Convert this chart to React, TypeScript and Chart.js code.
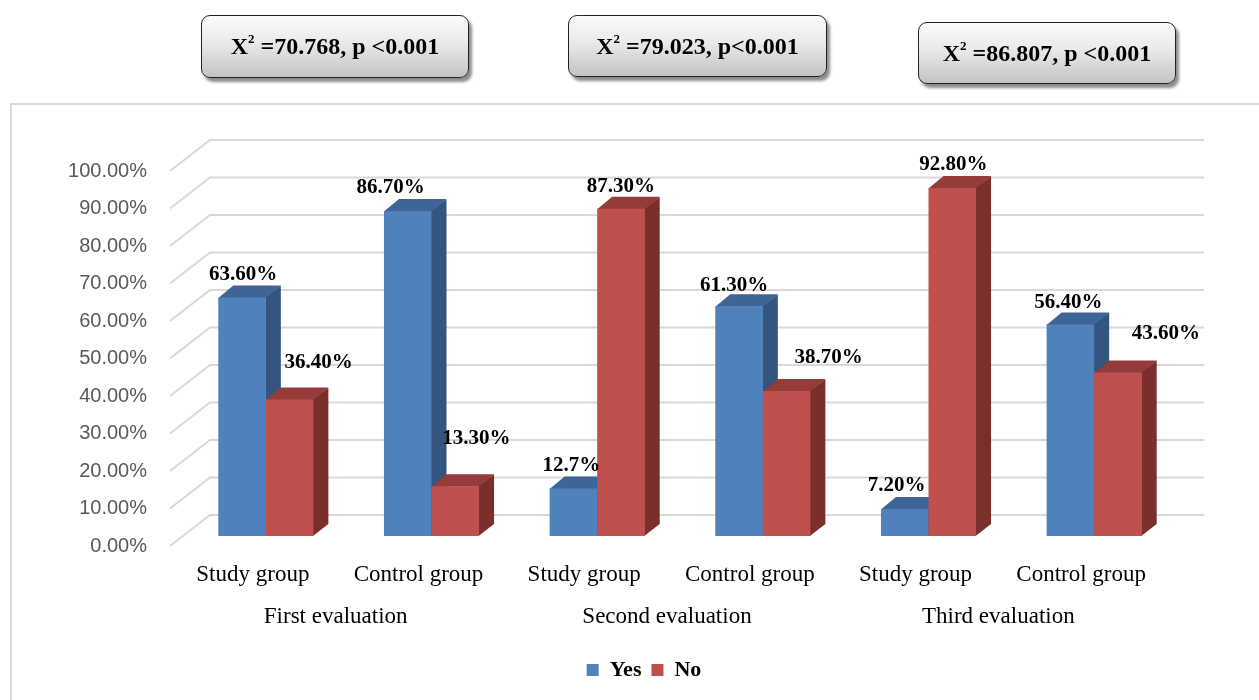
import React, { useEffect, useRef } from 'react';
import { Chart, registerables } from 'chart.js';

Chart.register(...registerables);

// ---------- data ----------
const categories = ['Study group', 'Control group', 'Study group', 'Control group', 'Study group', 'Control group'];
const groups = ['First evaluation', 'Second evaluation', 'Third evaluation'];
const yesValues = [63.6, 86.7, 12.7, 61.3, 7.2, 56.4];
const noValues = [36.4, 13.3, 87.3, 38.7, 92.8, 43.6];
const yesLabels = ['63.60%', '86.70%', '12.7%', '61.30%', '7.20%', '56.40%'];
const noLabels = ['36.40%', '13.30%', '87.30%', '38.70%', '92.80%', '43.60%'];
const seriesNames = ['Yes', 'No'];
const chiSquare = ['70.768', '79.023', '86.807'];
const pTexts = ['p <0.001', 'p<0.001', 'p <0.001'];
const yMin = 0;
const yMax = 100;
const yStep = 10;

// ---------- styling / layout ----------
const FRONT = ['#4f81bd', '#c0504d'];
const TOP = ['#3e6595', '#953b39'];
const SIDE = ['#33557f', '#7a2f2d'];
const WALL_DX = 40;
const WALL_DY = -31;
const BAR_DX = 13;
const BAR_DY = -10;
const DEPTH_DX = 15;
const DEPTH_DY = -12;
const LEGEND_SHIFT = 57;
// label nudges relative to bar's front-top centre (dx, dy)
const yesNudge = [[1, -23], [-17, -23], [-2, -23], [-5, -21], [-8, -23], [-2, -22]];
const noNudge = [[29, -37], [21, -48], [0, -22], [42, -33], [1, -23], [48, -39]];
const BOXES = [
  { left: 201, top: 15, width: 268, height: 63 },
  { left: 568, top: 15, width: 259, height: 62 },
  { left: 918, top: 22, width: 258, height: 62 },
];

const threeD = {
  id: 'threeD',
  afterLayout(chart: any) {
    if (chart.legend) {
      chart.legend.left += LEGEND_SHIFT;
      chart.legend.right += LEGEND_SHIFT;
    }
  },
  beforeDatasetsDraw(chart: any) {
    const ctx = chart.ctx;
    const ys = chart.scales.y;
    const area = chart.chartArea;
    ctx.save();
    ctx.strokeStyle = '#d9d9d9';
    ctx.lineWidth = 2;
    ys.ticks.forEach((t: any) => {
      const py = ys.getPixelForValue(t.value);
      ctx.beginPath();
      ctx.moveTo(area.left, py);
      ctx.lineTo(area.left + WALL_DX, py + WALL_DY);
      ctx.lineTo(area.right + WALL_DX, py + WALL_DY);
      ctx.stroke();
    });
    ctx.restore();

    ctx.save();
    ctx.translate(BAR_DX, BAR_DY);
    const metas = chart.data.datasets.map((_: any, i: number) => chart.getDatasetMeta(i));
    const n = chart.data.labels.length;
    for (let j = 0; j < n; j++) {
      metas.forEach((meta: any, di: number) => {
        const el = meta.data[j];
        if (!el) return;
        const x = el.x, top = el.y, base = el.base, w = el.width;
        const l = x - w / 2, r = x + w / 2;
        ctx.fillStyle = TOP[di];
        ctx.beginPath();
        ctx.moveTo(l, top + 0.5);
        ctx.lineTo(l + DEPTH_DX, top + DEPTH_DY);
        ctx.lineTo(r + DEPTH_DX, top + DEPTH_DY);
        ctx.lineTo(r - 0.5, top + 0.5);
        ctx.closePath();
        ctx.fill();
        ctx.fillStyle = SIDE[di];
        ctx.beginPath();
        ctx.moveTo(r - 0.5, top);
        ctx.lineTo(r + DEPTH_DX, top + DEPTH_DY);
        ctx.lineTo(r + DEPTH_DX, base + DEPTH_DY);
        ctx.lineTo(r - 0.5, base);
        ctx.closePath();
        ctx.fill();
        el.draw(ctx, area);
      });
    }
    ctx.restore();
    return false;
  },
  afterDraw(chart: any) {
    const ctx = chart.ctx;
    ctx.save();
    ctx.font = 'bold 21px "Liberation Serif"';
    ctx.fillStyle = '#000';
    ctx.textAlign = 'center';
    ctx.textBaseline = 'middle';
    const texts = [yesLabels, noLabels];
    const nudges = [yesNudge, noNudge];
    chart.data.datasets.forEach((_: any, di: number) => {
      const meta = chart.getDatasetMeta(di);
      meta.data.forEach((el: any, j: number) => {
        const [dx, dy] = nudges[di][j];
        ctx.fillText(texts[di][j], el.x + BAR_DX + dx, el.y + BAR_DY + dy);
      });
    });
    ctx.restore();
  },
};

function StatBox({ i }: { i: number }) {
  const b = BOXES[i];
  return (
    <div
      style={{
        position: 'absolute',
        left: b.left,
        top: b.top,
        width: b.width,
        height: b.height,
        boxSizing: 'border-box',
        border: '1.5px solid #222',
        borderRadius: 9,
        background: 'linear-gradient(#fbfbfb, #e9e9e9 45%, #c3c3c3)',
        boxShadow: '3px 4px 3px rgba(0,0,0,0.45)',
        display: 'flex',
        alignItems: 'center',
        justifyContent: 'center',
        font: 'bold 24px "Liberation Serif"',
        color: '#000',
        whiteSpace: 'pre',
      }}
    >
      <span>
        X
        <span style={{ fontSize: 13, position: 'relative', top: -11 }}>2</span>
        {' =' + chiSquare[i] + ', ' + pTexts[i]}
      </span>
    </div>
  );
}

export default function App() {
  const ref = useRef<HTMLCanvasElement | null>(null);
  useEffect(() => {
    if (!ref.current) return;
    const chart = new Chart(ref.current, {
      type: 'bar',
      data: {
        labels: categories,
        datasets: [
          { label: seriesNames[0], data: yesValues, backgroundColor: FRONT[0], borderWidth: 0 },
          { label: seriesNames[1], data: noValues, backgroundColor: FRONT[1], borderWidth: 0 },
        ],
      },
      options: {
        responsive: false,
        animation: false,
        devicePixelRatio: 1,
        layout: { padding: { left: 10, right: 95, top: 171, bottom: 9 } },
        datasets: { bar: { categoryPercentage: 0.574, barPercentage: 1 } },
        plugins: {
          legend: {
            position: 'bottom',
            labels: {
              boxWidth: 12,
              boxHeight: 12,
              padding: 10,
              color: '#000',
              font: { family: '"Liberation Serif"', size: 22, weight: 'bold' },
            },
          },
          tooltip: { enabled: false },
        },
        scales: {
          x: {
            type: 'category',
            grid: { display: false, drawTicks: false },
            border: { display: false },
            ticks: {
              color: '#000',
              padding: 15,
              autoSkip: false,
              maxRotation: 0,
              font: { family: '"Liberation Serif"', size: 23 },
            },
            afterFit: (s: any) => { s.height = 50; },
          },
          x2: {
            type: 'category',
            position: 'bottom',
            labels: groups,
            offset: true,
            grid: { display: false, drawTicks: false },
            border: { display: false },
            ticks: {
              color: '#000',
              padding: 7,
              autoSkip: false,
              maxRotation: 0,
              font: { family: '"Liberation Serif"', size: 23 },
            },
            afterFit: (s: any) => { s.height = 53; },
          },
          y: {
            min: yMin,
            max: yMax,
            grid: { display: false, drawTicks: false },
            border: { display: false },
            ticks: {
              stepSize: yStep,
              color: '#595959',
              padding: 23,
              font: { family: '"Liberation Sans"', size: 20 },
              callback: (v: any) => Number(v).toFixed(2) + '%',
            },
            afterFit: (s: any) => { s.width = 160; },
          },
        },
      },
      plugins: [threeD],
    } as any);
    return () => chart.destroy();
  }, []);

  return (
    <div style={{ position: 'absolute', left: 0, top: 0, width: 1259, height: 700, overflow: 'hidden', background: '#fff' }}>
      <div
        style={{
          position: 'absolute',
          left: 10,
          top: 103,
          width: 1300,
          height: 700,
          border: '2px solid #d9d9d9',
          boxSizing: 'border-box',
        }}
      />
      <canvas ref={ref} width={1259} height={700} style={{ position: 'absolute', left: 0, top: 0 }} />
      <StatBox i={0} />
      <StatBox i={1} />
      <StatBox i={2} />
    </div>
  );
}
